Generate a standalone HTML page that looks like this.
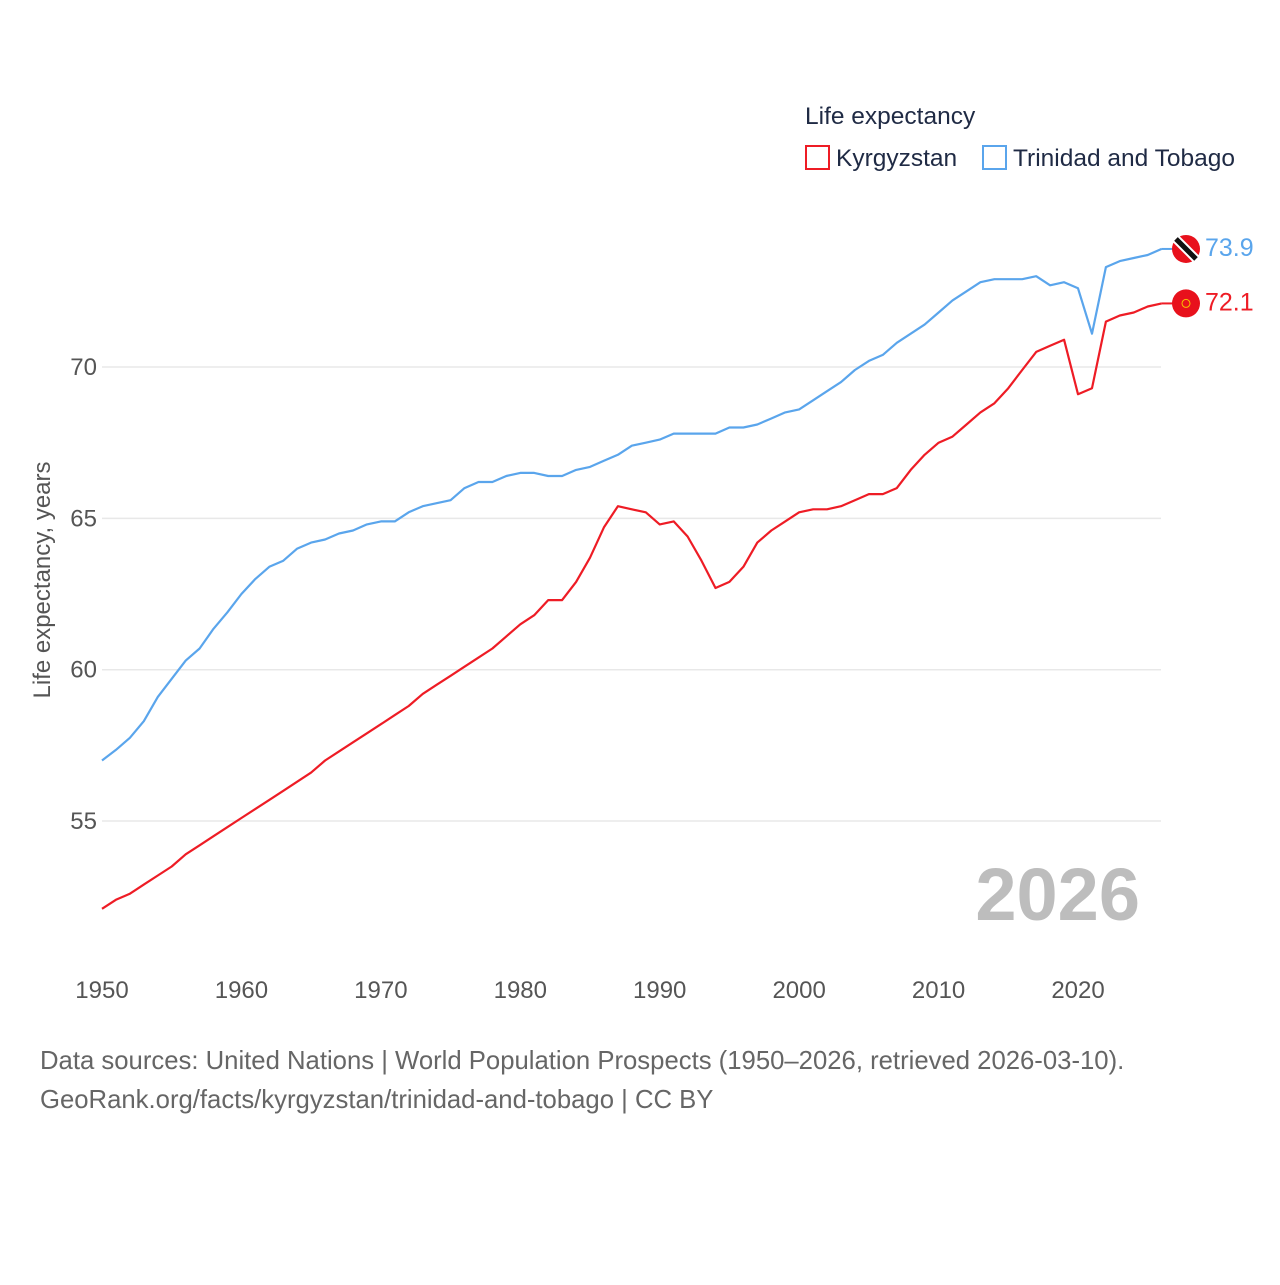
<!DOCTYPE html>
<html><head><meta charset="utf-8"><style>
body{margin:0;background:#fff;width:1280px;height:1280px;overflow:hidden;font-family:"Liberation Sans",sans-serif}
svg text{font-family:"Liberation Sans",sans-serif}
</style></head><body>
<svg id="chart" width="1280" height="1280">
<g id="grid"></g>
<g id="yticks"></g>
<g id="xticks"></g>
<text x="50" y="580" transform="rotate(-90 50 580)" text-anchor="middle" font-size="24" fill="#555">Life expectancy, years</text>
<text x="1140" y="920" text-anchor="end" font-size="74" font-weight="bold" fill="#bdbdbd">2026</text>
<g id="lines"></g>
<g>
<text x="805" y="124" font-size="24.5" fill="#1f2a44">Life expectancy</text>
<g><rect x="806" y="146" width="23" height="23" fill="none" stroke="#ee1c25" stroke-width="2"/><text x="836" y="166" font-size="24.5" fill="#1f2a44">Kyrgyzstan</text></g>
<g><rect x="983" y="146" width="23" height="23" fill="none" stroke="#5aa5ec" stroke-width="2"/><text x="1013" y="166" font-size="24.5" fill="#1f2a44">Trinidad and Tobago</text></g>
</g>
<g id="ends"></g>
<text x="40" y="1069" font-size="25.7" fill="#666">Data sources: United Nations | World Population Prospects (1950–2026, retrieved 2026-03-10).</text>
<text x="40" y="1108" font-size="25.7" fill="#666">GeoRank.org/facts/kyrgyzstan/trinidad-and-tobago | CC BY</text>
</svg>
<script>
const years=[];for(let y=1950;y<=2026;y++)years.push(y);
const trinidad=[57.0,57.35,57.75,58.3,59.1,59.7,60.3,60.7,61.35,61.9,62.5,63.0,63.4,63.6,64.0,64.2,64.3,64.5,64.6,64.8,64.9,64.9,65.2,65.4,65.5,65.6,66.0,66.2,66.2,66.4,66.5,66.5,66.4,66.4,66.6,66.7,66.9,67.1,67.4,67.5,67.6,67.8,67.8,67.8,67.8,68.0,68.0,68.1,68.3,68.5,68.6,68.9,69.2,69.5,69.9,70.2,70.4,70.8,71.1,71.4,71.8,72.2,72.5,72.8,72.9,72.9,72.9,73.0,72.7,72.8,72.6,71.1,73.3,73.5,73.6,73.7,73.9];
const kyrgyzstan=[52.1,52.4,52.6,52.9,53.2,53.5,53.9,54.2,54.5,54.8,55.1,55.4,55.7,56.0,56.3,56.6,57.0,57.3,57.6,57.9,58.2,58.5,58.8,59.2,59.5,59.8,60.1,60.4,60.7,61.1,61.5,61.8,62.3,62.3,62.9,63.7,64.7,65.4,65.3,65.2,64.8,64.9,64.4,63.6,62.7,62.9,63.4,64.2,64.6,64.9,65.2,65.3,65.3,65.4,65.6,65.8,65.8,66.0,66.6,67.1,67.5,67.7,68.1,68.5,68.8,69.3,69.9,70.5,70.7,70.9,69.1,69.3,71.5,71.7,71.8,72.0,72.1];
const yTicks=[55,60,65,70];
const xTicks=[1950,1960,1970,1980,1990,2000,2010,2020];
const NS='http://www.w3.org/2000/svg';
const X=v=>102+(v-1950)*13.943;
const Y=v=>367-(v-70)*30.27;
function mk(t,a,p){const e=document.createElementNS(NS,t);for(const k in a)e.setAttribute(k,a[k]);p.appendChild(e);return e;}
const grid=document.getElementById('grid'),yt=document.getElementById('yticks'),xt=document.getElementById('xticks');
yTicks.forEach(v=>{
 const l=mk('line',{x1:102,x2:1161,y1:Y(v),y2:Y(v),stroke:'#e8e8e8','stroke-width':1.5},grid);
 
 
 const t=mk('text',{x:97,y:Y(v)+8,'text-anchor':'end','font-size':24,fill:'#555'},yt);t.textContent=v;
 
 
});
xTicks.forEach(v=>{
 const t=mk('text',{x:X(v),y:998,'text-anchor':'middle','font-size':24,fill:'#555'},xt);t.textContent=v;
 
 
});
const lines=document.getElementById('lines');
function series(vals,color,name){
 const d=vals.map((v,i)=>(i?'L':'M')+X(years[i]).toFixed(1)+','+Y(v).toFixed(1)).join('');
 const p=mk('path',{d:d,fill:'none',stroke:color,'stroke-width':2.2,'stroke-linejoin':'round'},lines);
 
 
}
series(trinidad,'#5aa5ec','trinidad-line');
series(kyrgyzstan,'#ee1c25','kyrgyzstan-line');
const ends=document.getElementById('ends');
function endLabel(vals,color,name,flag){
 const v=vals[vals.length-1],y=Y(v),x=X(years[years.length-1]);
 mk('line',{x1:x,x2:1175,y1:y,y2:y,stroke:color,'stroke-width':2},ends);
 const g=mk('g',{},ends);
 
 
 mk('circle',{cx:1186,cy:y,r:14,fill:'#e8111c'},g);
 if(flag){mk('line',{x1:1176,y1:y-10,x2:1196,y2:y+10,stroke:'#fff','stroke-width':9},g);mk('line',{x1:1176,y1:y-10,x2:1196,y2:y+10,stroke:'#111','stroke-width':5},g);}
 else mk('circle',{cx:1186,cy:y,r:4,fill:'none',stroke:'#f7c000','stroke-width':1},g);
 const t=mk('text',{x:1205,y:y+7,'font-size':25,fill:color},ends);t.textContent=v.toFixed(1);
 
 
}
endLabel(trinidad,'#5aa5ec','trinidad',true);
endLabel(kyrgyzstan,'#ee1c25','kyrgyzstan',false);
</script>
</body></html>
